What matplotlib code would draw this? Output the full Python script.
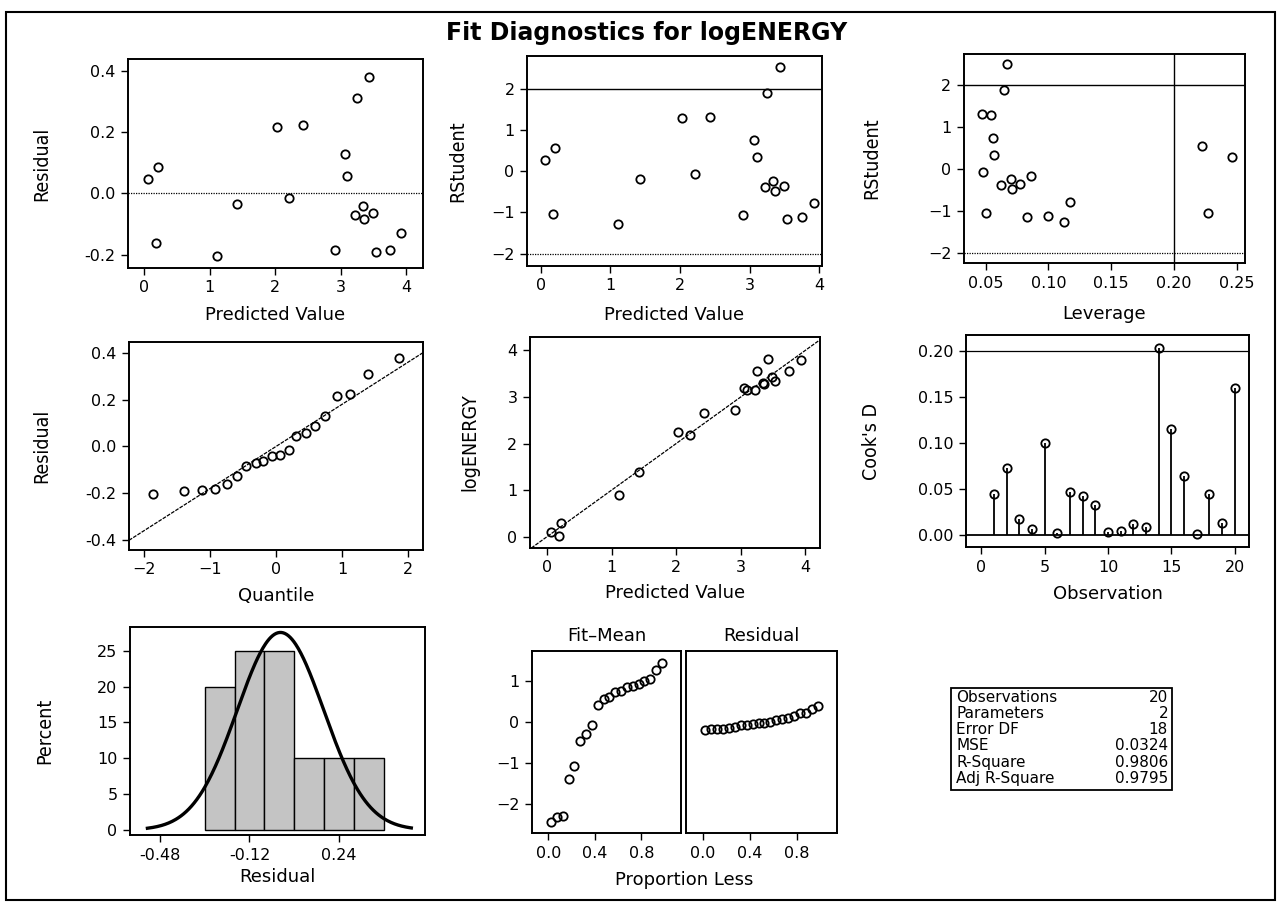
import numpy as np
import matplotlib.pyplot as plt
from matplotlib.patches import Rectangle
from matplotlib.ticker import FormatStrFormatter

# one entry per observation (same order in each array)
predicted = np.array([0.06, 0.21, 0.18, 1.11, 1.42, 2.03, 2.21, 2.43, 2.91, 3.06,
                      3.10, 3.22, 3.25, 3.34, 3.36, 3.43, 3.49, 3.54, 3.75, 3.93])
residual = np.array([0.046, 0.087, -0.160, -0.205, -0.036, 0.217, -0.016, 0.223, -0.185, 0.130,
                     0.058, -0.070, 0.310, -0.042, -0.084, 0.380, -0.064, -0.190, -0.183, -0.128])
rstudent = np.array([0.28, 0.55, -1.05, -1.27, -0.18, 1.29, -0.08, 1.31, -1.06, 0.75,
                     0.33, -0.38, 1.90, -0.24, -0.48, 2.52, -0.37, -1.16, -1.12, -0.78])
leverage = np.array([0.246, 0.222, 0.227, 0.112, 0.086, 0.0545, 0.048, 0.047, 0.050, 0.056,
                     0.057, 0.0625, 0.0644, 0.070, 0.071, 0.0668, 0.0777, 0.0827, 0.0997, 0.117])

# Cook's D by observation number
cooks_d = [0.045, 0.073, 0.017, 0.0065, 0.100, 0.002, 0.047, 0.042, 0.033, 0.0036,
           0.004, 0.0116, 0.009, 0.2036, 0.115, 0.064, 0.0015, 0.044, 0.013, 0.160]

# normal quantiles for the Q-Q plot
quantiles = [-1.87, -1.40, -1.13, -0.92, -0.75, -0.59, -0.45, -0.31, -0.19, -0.06,
             0.06, 0.19, 0.31, 0.45, 0.59, 0.75, 0.92, 1.13, 1.40, 1.87]

# histogram of residuals
hist_edges = [-0.30, -0.18, -0.06, 0.06, 0.18, 0.30, 0.42]
hist_pct = [20, 25, 25, 10, 10, 10]

# residual-fit spread plot
prop_less = [0.025, 0.075, 0.125, 0.175, 0.225, 0.275, 0.325, 0.375, 0.425, 0.475,
             0.525, 0.575, 0.625, 0.675, 0.725, 0.775, 0.825, 0.875, 0.925, 0.975]

stat_names = ['Observations', 'Parameters', 'Error DF', 'MSE', 'R-Square', 'Adj R-Square']
stat_values = ['20', '2', '18', '0.0324', '0.9806', '0.9795']
mse = 0.0324

W, H = 1283, 909
fig = plt.figure(figsize=(W / 100, H / 100), dpi=100)


def axes_px(l, t, r, b):
    return fig.add_axes([l / W, 1 - b / H, (r - l) / W, (b - t) / H])


def style(ax, xlabel=None, ylabel=None, ylx=-0.3, xly=-0.19):
    for s in ax.spines.values():
        s.set_linewidth(1.4)
    ax.tick_params(direction='out', length=5, width=1, labelsize=11.5, pad=4)
    if xlabel:
        ax.set_xlabel(xlabel, fontsize=13)
        ax.xaxis.set_label_coords(0.5, xly)
    if ylabel:
        ax.set_ylabel(ylabel, fontsize=14, fontstretch='condensed')
        # shift so the label's centre sits where it does in the original
        w = ax.get_position().width * W
        ax.yaxis.set_label_coords(ylx + 9 / w, 0.5)


mk = dict(marker='o', ms=6, mfc='none', mec='black', mew=1.3, ls='none')

# Residual vs predicted
ax1 = axes_px(128, 59, 423, 268)
ax1.plot(predicted, residual, **mk)
ax1.axhline(0, color='black', lw=0.9, ls=(0, (1, 1)))
ax1.set_xlim(-0.25, 4.26)
ax1.set_ylim(-0.243, 0.438)
ax1.set_xticks([0, 1, 2, 3, 4])
ax1.set_yticks([-0.2, 0.0, 0.2, 0.4])
ax1.yaxis.set_major_formatter(FormatStrFormatter('%.1f'))
style(ax1, 'Predicted Value', 'Residual', ylx=-0.29, xly=-0.18)

# RStudent vs predicted
ax2 = axes_px(527, 56, 822, 266)
ax2.plot(predicted, rstudent, **mk)
ax2.axhline(2, color='black', lw=1)
ax2.axhline(-2, color='black', lw=0.9, ls=(0, (1, 1)))
ax2.set_xlim(-0.197, 4.04)
ax2.set_ylim(-2.3, 2.79)
ax2.set_xticks([0, 1, 2, 3, 4])
ax2.set_yticks([-2, -1, 0, 1, 2])
style(ax2, 'Predicted Value', 'RStudent', ylx=-0.234, xly=-0.19)

# RStudent vs leverage
ax3 = axes_px(964, 54, 1245, 263)
ax3.plot(leverage, rstudent, **mk)
ax3.axhline(2, color='black', lw=1)
ax3.axhline(-2, color='black', lw=0.9, ls=(0, (1, 1)))
ax3.axvline(0.2, color='black', lw=1)
ax3.set_xlim(0.0327, 0.2566)
ax3.set_ylim(-2.25, 2.75)
ax3.set_xticks([0.05, 0.10, 0.15, 0.20, 0.25])
ax3.set_yticks([-2, -1, 0, 1, 2])
ax3.xaxis.set_major_formatter(FormatStrFormatter('%.2f'))
style(ax3, 'Leverage', 'RStudent', ylx=-0.327, xly=-0.2)

# Q-Q plot of residuals
ax4 = axes_px(129, 342, 423, 550)
ax4.plot(quantiles, np.sort(residual), **mk)
ax4.axline((0, 0), slope=np.sqrt(mse), color='black', lw=0.9, ls=(0, (3, 1)))
ax4.set_xlim(-2.23, 2.23)
ax4.set_ylim(-0.443, 0.447)
ax4.set_xticks([-2, -1, 0, 1, 2])
ax4.set_yticks([-0.4, -0.2, 0.0, 0.2, 0.4])
ax4.yaxis.set_major_formatter(FormatStrFormatter('%.1f'))
style(ax4, 'Quantile', 'Residual', ylx=-0.296, xly=-0.18)

# observed vs predicted
ax5 = axes_px(530, 337, 820, 548)
ax5.plot(predicted, predicted + residual, **mk)
ax5.axline((0, 0), slope=1, color='black', lw=0.9, ls=(0, (3, 1)))
ax5.set_xlim(-0.264, 4.23)
ax5.set_ylim(-0.243, 4.29)
ax5.set_xticks([0, 1, 2, 3, 4])
ax5.set_yticks([0, 1, 2, 3, 4])
style(ax5, 'Predicted Value', 'logENERGY', ylx=-0.207, xly=-0.17)

# Cook's D
ax6 = axes_px(966, 335, 1249, 547)
obs = np.arange(1, len(cooks_d) + 1)
ax6.vlines(obs, 0, cooks_d, color='black', lw=1.3)
ax6.plot(obs, cooks_d, **mk)
ax6.axhline(0, color='black', lw=1.3)
ax6.axhline(0.2, color='black', lw=0.9)
ax6.set_xlim(-1.21, 21.13)
ax6.set_ylim(-0.0131, 0.2174)
ax6.set_xticks([0, 5, 10, 15, 20])
ax6.set_yticks([0.0, 0.05, 0.10, 0.15, 0.20])
ax6.yaxis.set_major_formatter(FormatStrFormatter('%.2f'))
style(ax6, 'Observation', "Cook's D", ylx=-0.332, xly=-0.18)

# histogram with normal curve
ax7 = axes_px(130, 627, 425, 835)
ax7.bar(hist_edges[:-1], hist_pct, width=np.diff(hist_edges), align='edge',
        color='#c4c4c4', edgecolor='black', lw=1)
mu, sd = residual.mean(), residual.std(ddof=1)
xs = np.linspace(-0.53, 0.53, 300)
binw = hist_edges[1] - hist_edges[0]
ax7.plot(xs, 100 * binw * np.exp(-0.5 * ((xs - mu) / sd) ** 2) / (sd * np.sqrt(2 * np.pi)),
         color='black', lw=2.4)
ax7.set_xlim(-0.6, 0.585)
ax7.set_ylim(-0.7, 28.3)
ax7.set_xticks([-0.48, -0.12, 0.24])
ax7.set_yticks([0, 5, 10, 15, 20, 25])
ax7.xaxis.set_major_formatter(FormatStrFormatter('%.2f'))
style(ax7, 'Residual', 'Percent', ylx=-0.288, xly=-0.16)

# residual-fit spread
ax8a = axes_px(532, 651, 681, 833)
ax8b = axes_px(686, 651, 837, 833)
ax8a.plot(prop_less, np.sort(predicted - predicted.mean()), **mk)
ax8b.plot(prop_less, np.sort(residual), **mk)
for ax, ttl in [(ax8a, 'Fit–Mean'), (ax8b, 'Residual')]:
    ax.set_xlim(-0.14, 1.14)
    ax.set_ylim(-2.71, 1.72)
    ax.set_xticks([0.0, 0.4, 0.8])
    ax.xaxis.set_major_formatter(FormatStrFormatter('%.1f'))
    ax.set_title(ttl, fontsize=13, pad=7)
    style(ax)
ax8a.set_yticks([-2, -1, 0, 1])
ax8b.set_yticks([])
fig.text(684.5 / W, 1 - 880 / H, 'Proportion Less', ha='center', va='center', fontsize=13)

# fit statistics box
fig.add_artist(Rectangle((951 / W, 1 - 790 / H), (1172 - 951) / W, (790 - 688) / H,
                         transform=fig.transFigure, fill=False, lw=1.3, ec='black'))
for i, (nm, val) in enumerate(zip(stat_names, stat_values)):
    yy = 1 - (697 + i * 16.3) / H
    fig.text(956 / W, yy, nm, ha='left', va='center', fontsize=11)
    fig.text(1168 / W, yy, val, ha='right', va='center', fontsize=11)

fig.text(647 / W, 1 - 33 / H, 'Fit Diagnostics for logENERGY', ha='center', va='center',
         fontsize=17, fontweight='bold')

# outer frame
fig.add_artist(Rectangle((6 / W, 1 - 900 / H), (1275 - 6) / W, (900 - 12) / H,
                         transform=fig.transFigure, fill=False, lw=1.5, ec='black'))

fig.savefig('out.png', dpi=100)
